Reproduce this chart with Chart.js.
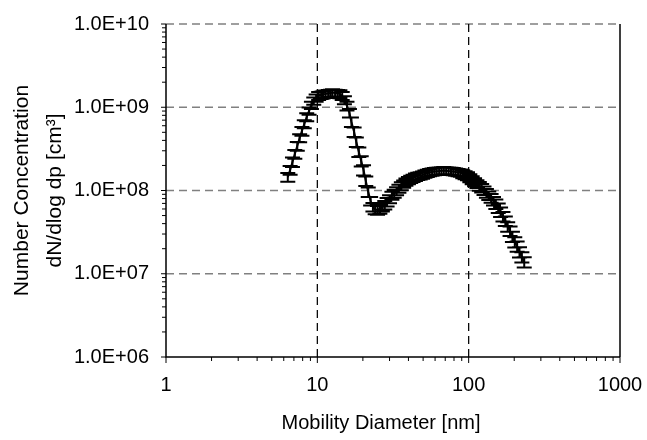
<!DOCTYPE html>
<html>
<head>
<meta charset="utf-8">
<script src="https://cdn.jsdelivr.net/npm/chart.js@4.4.1/dist/chart.umd.min.js"></script>
<style>
  html, body { margin: 0; padding: 0; background: #ffffff; }
  #wrap { width: 647px; height: 440px; }
</style>
</head>
<body>
<div id="wrap"><canvas id="c" width="647" height="440"></canvas></div>
<script>
// Particle size distribution: SMPS channel midpoints (nm) vs dN/dlog dp (cm^-3)
const diameterNm = [6.38, 6.61, 6.85, 7.10, 7.37, 7.64, 7.91, 8.20, 8.51, 8.82,
  9.14, 9.47, 9.82, 10.2, 10.6, 10.9, 11.3, 11.8, 12.2, 12.6,
  13.1, 13.6, 14.1, 14.6, 15.1, 15.7, 16.3, 16.8, 17.5, 18.1,
  18.8, 19.5, 20.2, 20.9, 21.7, 22.5, 23.3, 24.1, 25.0, 25.9,
  26.9, 27.9, 28.9, 30.0, 31.1, 32.2, 33.4, 34.6, 35.9, 37.2,
  38.5, 40.0, 41.4, 42.9, 44.5, 46.1, 47.8, 49.6, 51.4, 53.3,
  55.2, 57.3, 59.4, 61.5, 63.8, 66.1, 68.5, 71.0, 73.7, 76.4,
  79.1, 82.0, 85.1, 88.2, 91.4, 94.7, 98.2, 101.8, 105.5, 109.4,
  113.4, 117.6, 121.9, 126.3, 131.0, 135.8, 140.7, 145.9, 151.2, 156.8,
  162.5, 168.5, 174.7, 181.1, 187.7, 194.6, 201.7, 209.1, 216.7, 224.7,
  232.9];

const numberConc = [1.45e8, 1.76e8, 2.20e8, 2.74e8, 3.42e8, 4.27e8, 5.18e8, 6.29e8, 7.64e8, 9.02e8,
  1.06e9, 1.19e9, 1.29e9, 1.37e9, 1.40e9, 1.42e9, 1.44e9, 1.46e9, 1.48e9, 1.50e9,
  1.48e9, 1.46e9, 1.44e9, 1.37e9, 1.22e9, 1.04e9, 8.53e8, 6.65e8, 5.04e8, 3.82e8,
  2.90e8, 2.26e8, 1.76e8, 1.30e8, 9.59e7, 7.48e7, 6.34e7, 5.91e7, 5.83e7, 5.99e7,
  6.34e7, 6.70e7, 7.28e7, 7.91e7, 8.70e7, 9.20e7, 9.86e7, 1.057e8, 1.13e8, 1.20e8,
  1.265e8, 1.32e8, 1.37e8, 1.41e8, 1.45e8, 1.49e8, 1.51e8, 1.54e8, 1.58e8, 1.61e8,
  1.645e8, 1.67e8, 1.69e8, 1.705e8, 1.715e8, 1.73e8, 1.74e8, 1.73e8, 1.715e8, 1.705e8,
  1.69e8, 1.67e8, 1.645e8, 1.63e8, 1.58e8, 1.536e8, 1.49e8, 1.41e8, 1.337e8, 1.265e8,
  1.20e8, 1.13e8, 1.072e8, 1.00e8, 9.33e7, 8.71e7, 8.12e7, 7.48e7, 6.88e7, 6.16e7,
  5.52e7, 4.87e7, 4.30e7, 3.68e7, 3.26e7, 2.80e7, 2.41e7, 2.14e7, 1.825e7, 1.59e7,
  1.38e7];

// standard deviation of each channel, percent of the mean
const errorPct = [12, 12, 13, 12, 12, 11, 12, 11, 11, 10,
  10, 10, 10, 11, 10, 10, 10, 10, 10, 10,
  10, 10, 11, 11, 11, 12, 12, 13, 13, 13,
  13, 14, 14, 13, 13, 12, 12, 12, 12, 12,
  12, 12, 12, 11, 11, 11, 11, 11, 11, 10,
  10, 10, 10, 10, 10, 10, 10, 10, 10, 10,
  10, 10, 10, 10, 10, 10, 10, 10, 10, 10,
  10, 10, 10, 10, 11, 11, 11, 11, 11, 11,
  11, 12, 12, 12, 12, 12, 12, 12, 13, 13,
  13, 13, 13, 13, 13, 14, 14, 14, 14, 14,
  14];

const xTickValues = [1, 10, 100, 1000];
const xTickLabels = ['1', '10', '100', '1000'];
const yTickValues = [1e6, 1e7, 1e8, 1e9, 1e10];
const yTickLabels = ['1.0E+06', '1.0E+07', '1.0E+08', '1.0E+09', '1.0E+10'];

const FONT = "'Liberation Sans', Arial, sans-serif";

function labelFor(v, values, labels) {
  for (let i = 0; i < values.length; i++) {
    if (Math.abs(v - values[i]) / values[i] < 1e-6) return labels[i];
  }
  return '';
}

function noBoxPadding(s) {
  s.paddingLeft = 0; s.paddingRight = 0; s.paddingTop = 0; s.paddingBottom = 0;
}

// dashed grid, axis lines and outward tick marks
const axisDecor = {
  id: 'axisDecor',
  beforeDatasetsDraw(chart) {
    const { ctx, chartArea: a, scales: { x, y } } = chart;
    ctx.save();
    ctx.setLineDash([8, 5]);
    ctx.lineWidth = 1.5;
    ctx.strokeStyle = '#808080';
    yTickValues.slice(1).forEach(v => {
      const py = y.getPixelForValue(v);
      ctx.beginPath(); ctx.moveTo(a.left, py); ctx.lineTo(a.right, py); ctx.stroke();
    });
    ctx.strokeStyle = '#000000';
    ctx.lineWidth = 1.25;
    xTickValues.slice(1, -1).forEach(v => {
      const px = x.getPixelForValue(v);
      ctx.beginPath(); ctx.moveTo(px, a.top); ctx.lineTo(px, a.bottom); ctx.stroke();
    });
    ctx.setLineDash([]);
    ctx.lineWidth = 1.5;
    ctx.beginPath();
    ctx.moveTo(a.left, a.top); ctx.lineTo(a.left, a.bottom); ctx.lineTo(a.right, a.bottom);
    ctx.moveTo(a.right, a.top); ctx.lineTo(a.right, a.bottom);
    ctx.stroke();
    ctx.lineWidth = 1;
    ctx.beginPath();
    for (let e = 6; e <= 10; e++) {
      for (let m = 1; m <= (e === 10 ? 1 : 9); m++) {
        const py = y.getPixelForValue(m * Math.pow(10, e));
        ctx.moveTo(a.left - (m === 1 ? 5 : 4), py); ctx.lineTo(a.left, py);
      }
    }
    for (let e = 0; e <= 3; e++) {
      for (let m = 1; m <= (e === 3 ? 1 : 9); m++) {
        const px = x.getPixelForValue(m * Math.pow(10, e));
        ctx.moveTo(px, a.bottom); ctx.lineTo(px, a.bottom + (m === 1 ? 6 : 4));
      }
    }
    ctx.stroke();
    ctx.restore();
  },
  afterDraw(chart) {
    const { ctx } = chart;
    ctx.save();
    ctx.fillStyle = '#000000';
    ctx.font = '20px ' + FONT;
    ctx.textAlign = 'center';
    ctx.textBaseline = 'alphabetic';
    ctx.fillText('Mobility Diameter [nm]', 381, 429);
    ctx.restore();
  }
};

// vertical error bars with caps, one per size channel
const errorBars = {
  id: 'errorBars',
  afterDatasetsDraw(chart) {
    const { ctx, scales: { x, y } } = chart;
    ctx.save();
    ctx.strokeStyle = '#000000';
    ctx.lineWidth = 2;
    ctx.beginPath();
    for (let i = 0; i < diameterNm.length; i++) {
      const px = x.getPixelForValue(diameterNm[i]);
      const hi = y.getPixelForValue(numberConc[i] * (1 + errorPct[i] / 100));
      const lo = y.getPixelForValue(numberConc[i] * (1 - errorPct[i] / 100));
      ctx.moveTo(px, hi); ctx.lineTo(px, lo);
      ctx.moveTo(px - 7.5, hi); ctx.lineTo(px + 7.5, hi);
      ctx.moveTo(px - 7.5, lo); ctx.lineTo(px + 7.5, lo);
    }
    ctx.stroke();
    ctx.restore();
  }
};

new Chart(document.getElementById('c'), {
  type: 'line',
  data: {
    datasets: [{
      data: diameterNm.map((d, i) => ({ x: d, y: numberConc[i] })),
      borderColor: '#000000',
      borderWidth: 2,
      pointRadius: 0,
      tension: 0,
      fill: false
    }]
  },
  options: {
    responsive: false,
    devicePixelRatio: 1,
    animation: false,
    layout: { padding: { top: 24, right: 27, left: 0, bottom: 0 } },
    plugins: { legend: { display: false }, tooltip: { enabled: false } },
    scales: {
      x: {
        type: 'logarithmic',
        min: 1, max: 1000,
        grid: { display: false, drawTicks: false },
        border: { display: false },
        ticks: {
          autoSkip: false, maxRotation: 0, padding: 16,
          color: '#000000', font: { family: FONT, size: 20 },
          callback: v => labelFor(v, xTickValues, xTickLabels)
        },
        afterFit: s => { s.height = 83; noBoxPadding(s); }
      },
      y: {
        type: 'logarithmic',
        min: 1e6, max: 1e10,
        grid: { display: false, drawTicks: false },
        border: { display: false },
        ticks: {
          autoSkip: false, padding: 17,
          color: '#000000', font: { family: FONT, size: 20 },
          callback: v => labelFor(v, yTickValues, yTickLabels)
        },
        title: {
          display: true,
          text: ['Number Concentration', 'dN/dlog dp [cm³]'],
          color: '#000000',
          font: { family: FONT, size: 21, lineHeight: 1.55 },
          padding: { top: 6, bottom: 0 }
        },
        afterFit: s => { s.width = 166; noBoxPadding(s); }
      }
    }
  },
  plugins: [axisDecor, errorBars]
});
</script>
</body>
</html>
